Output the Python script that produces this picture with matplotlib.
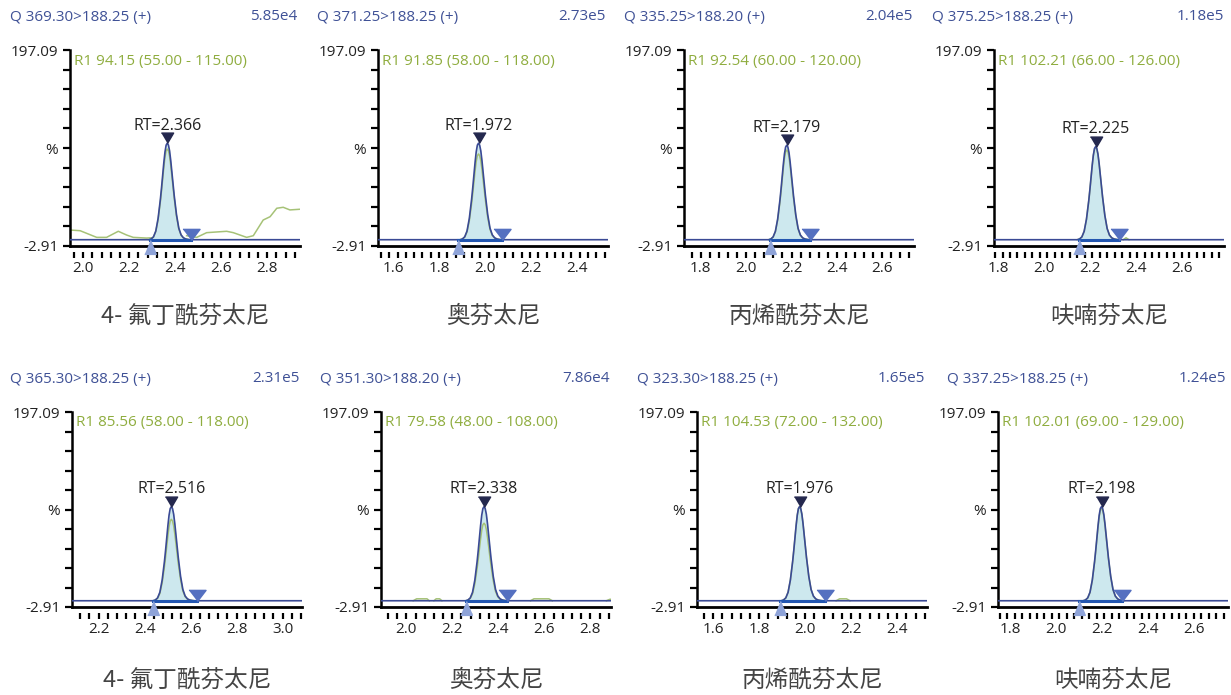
import matplotlib
matplotlib.use("Agg")
import matplotlib.pyplot as plt
from matplotlib.ticker import FormatStrFormatter, MultipleLocator
import numpy as np

W, H = 1231, 695

# header strings of each trace
TRANSITIONS = [
    "Q 369.30>188.25 (+)", "Q 371.25>188.25 (+)", "Q 335.25>188.20 (+)", "Q 375.25>188.25 (+)",
    "Q 365.30>188.25 (+)", "Q 351.30>188.20 (+)", "Q 323.30>188.25 (+)", "Q 337.25>188.25 (+)",
]
MAX_INTENSITY = ["5.85e4", "2.73e5", "2.04e5", "1.18e5", "2.31e5", "7.86e4", "1.65e5", "1.24e5"]
RATIO_TEXT = [
    "R1 94.15 (55.00 - 115.00)", "R1 91.85 (58.00 - 118.00)",
    "R1 92.54 (60.00 - 120.00)", "R1 102.21 (66.00 - 126.00)",
    "R1 85.56 (58.00 - 118.00)", "R1 79.58 (48.00 - 108.00)",
    "R1 104.53 (72.00 - 132.00)", "R1 102.01 (69.00 - 129.00)",
]
NAMES = ["4- 氟丁酰芬太尼", "奥芬太尼", "丙烯酰芬太尼", "呋喃芬太尼"] * 2

# retention times and peak integration limits
RT = [2.366, 1.972, 2.179, 2.225, 2.516, 2.338, 1.976, 2.198]
PEAK_START = [2.291, 1.881, 2.105, 2.154, 2.436, 2.260, 1.889, 2.102]
PEAK_END = [2.469, 2.072, 2.283, 2.328, 2.626, 2.439, 2.088, 2.285]
BLUE_APEX = [102, 102, 100, 98.5, 100, 100, 100, 100]
GREEN_APEX = [96, 91, 95, 98, 87, 83, 100, 98]
BASELINE = 3.5

XLIM = [
    (1.943, 2.943), (1.535, 2.535), (1.726, 2.74), (1.783, 2.783),
    (2.084, 3.084), (1.89, 2.89), (1.53, 2.53), (1.748, 2.748),
]
MINOR_STEP = [0.04, 0.036, 0.04, 0.0325, 0.04, 0.04, 0.04, 0.0325]

Y_LO, Y_HI = -2.91, 197.09

# peak profile (percent of apex), time offset from apex
PEAK_OFFSETS = [-0.08, -0.07, -0.06, -0.05, -0.04, -0.03, -0.025, -0.02, -0.015, -0.01, -0.005, 0.0,
                0.005, 0.01, 0.015, 0.02, 0.025, 0.03, 0.04, 0.05, 0.06, 0.07, 0.08, 0.09, 0.10]
PEAK_SHAPE = [0, 0.8, 3, 9, 22, 42, 54, 67, 80, 91, 98, 100,
              98, 92, 82, 70, 58, 46, 26, 12, 5, 2, 0.8, 0.3, 0]

# green trace outside the peak (qualifier noise)
GREEN_NOISE = [
    [([1.943, 1.987, 2.059, 2.102, 2.153, 2.189, 2.218, 2.276, 2.30],
      [13.4, 12.7, 5.9, 5.9, 12.1, 8.3, 5.9, 5.2, 5.5]),
     ([2.45, 2.494, 2.537, 2.624, 2.653, 2.711, 2.74, 2.783, 2.813, 2.842, 2.87, 2.899, 2.943],
      [7.6, 5.9, 10.7, 12.1, 10.7, 5.9, 7.6, 23.6, 27.0, 35.6, 36.6, 33.9, 34.6])],
    [],
    [],
    [([2.345, 2.357, 2.37], [3.5, 5.5, 3.5])],
    [],
    [([2.03, 2.045, 2.09, 2.10], [3.5, 5.5, 5.5, 3.5]),
     ([2.12, 2.13, 2.145, 2.155], [3.5, 5.5, 5.5, 3.5]),
     ([2.54, 2.555, 2.62, 2.635], [3.5, 5.5, 5.5, 3.5]),
     ([2.87, 2.885, 2.89], [3.5, 5.0, 5.0])],
    [([2.135, 2.15, 2.18, 2.195], [3.5, 5.5, 5.5, 3.5])],
    [],
]

# layout in pixels
AX_LEFT = [70, 378, 684, 994, 72, 381, 697, 998]
AX_W = 230
ROW_TOP = [50, 412]
ROW_BOTTOM = [246, 607]
HEAD_X = [10, 317, 624, 932, 10, 320, 637, 947]
HEAD_RIGHT = [297, 606, 913, 1224, 300, 610, 925, 1226]
HEAD_Y = [17, 379]
RATIO_Y = [61, 423]
NAME_Y = [316, 680]

HEAD_BLUE = "#3f5196"
RATIO_GREEN = "#8fad3f"
TRACE_GREEN = "#a6c277"
TRACE_BLUE = "#3a4a95"
FILL = "#cde8ee"

plt.rcParams["font.family"] = ["Open Sans", "DejaVu Sans"]
fig = plt.figure(figsize=(W / 100, H / 100), dpi=100)


def tri(kind):
    if kind == "apex":
        return [(-1, 1.7), (1, 1.7), (0, 0)]
    if kind == "end":
        return [(-1, 1.3), (1, 1.3), (0, 0)]
    return [(-1, -2.4), (1, -2.4), (0, 0)]


for i in range(8):
    row = i // 4
    top, bottom = ROW_TOP[row], ROW_BOTTOM[row]
    ax = fig.add_axes([AX_LEFT[i] / W, 1 - bottom / H, AX_W / W, (bottom - top) / H])
    x0, x1 = XLIM[i]
    ax.set_xlim(x0, x1)
    ax.set_ylim(Y_LO, Y_HI)

    for s in ("top", "right"):
        ax.spines[s].set_visible(False)
    ax.spines["left"].set_linewidth(1.8)
    ax.spines["bottom"].set_position(("outward", 4))
    ax.spines["bottom"].set_visible(False)
    ax.axhline(Y_LO, color="black", lw=2.0, clip_on=False, zorder=2.5)

    yt = [Y_LO + 20 * k for k in range(11)]
    ylabels = [""] * 11
    ylabels[0], ylabels[5], ylabels[10] = "-2.91", "%", "197.09"
    ax.set_yticks(yt)
    ax.set_yticklabels(ylabels)
    ax.tick_params(axis="y", length=5, width=1.6, direction="out", pad=3.5,
                   labelsize=11, labelcolor="#222222")

    ax.xaxis.set_major_locator(MultipleLocator(0.2))
    ax.xaxis.set_major_formatter(FormatStrFormatter("%.1f"))
    ax.xaxis.set_minor_locator(MultipleLocator(MINOR_STEP[i]))
    ax.xaxis.remove_overlapping_locs = False
    ax.tick_params(axis="x", which="major", length=0, pad=7, labelsize=11, labelcolor="#222222")
    ax.tick_params(axis="x", which="minor", length=4.5, width=1.6, direction="out")

    t = RT[i] + np.array(PEAK_OFFSETS)
    shape = np.array(PEAK_SHAPE) / 100
    blue = BASELINE + shape * (BLUE_APEX[i] - BASELINE)
    green = BASELINE + shape * (GREEN_APEX[i] - BASELINE)

    ax.fill_between(t, BASELINE, blue, color=FILL, lw=0, zorder=1)
    for gt, gv in GREEN_NOISE[i]:
        ax.plot(gt, gv, color=TRACE_GREEN, lw=1.1, zorder=2)
    ax.plot(t, green, color=TRACE_GREEN, lw=1.1, zorder=2)
    ax.plot([x0] + list(t) + [x1], [BASELINE] + list(blue) + [BASELINE],
            color=TRACE_BLUE, lw=1.2, zorder=3)
    ax.plot([PEAK_START[i], PEAK_END[i]], [BASELINE, BASELINE], color="#2356b0", lw=2.2, zorder=3.5)

    ax.plot(RT[i], BLUE_APEX[i], marker=tri("apex"), ms=15, color="#24284e", lw=0,
            clip_on=False, zorder=6)
    ax.plot(PEAK_END[i], BASELINE, marker=tri("end"), ms=16, color="#5570c0", lw=0,
            clip_on=False, zorder=6)
    ax.plot(PEAK_START[i], BASELINE, marker=tri("start"), ms=20, color="#8ea3d8", lw=0,
            clip_on=False, zorder=6)

    ax.annotate(f"RT={RT[i]:.3f}", (RT[i], BLUE_APEX[i]), xytext=(0, 9.5),
                textcoords="offset points", ha="center", va="baseline",
                fontsize=11.5, color="#222222")

    fig.text(HEAD_X[i] / W, 1 - HEAD_Y[row] / H, TRANSITIONS[i], ha="left", va="center",
             fontsize=11, color=HEAD_BLUE)
    fig.text(HEAD_RIGHT[i] / W, 1 - HEAD_Y[row] / H, MAX_INTENSITY[i], ha="right", va="center",
             fontsize=11, color=HEAD_BLUE)
    fig.text((AX_LEFT[i] + 4) / W, 1 - RATIO_Y[row] / H, RATIO_TEXT[i], ha="left", va="center",
             fontsize=11, color=RATIO_GREEN)
    fig.text((AX_LEFT[i] + AX_W / 2) / W, 1 - NAME_Y[row] / H, NAMES[i], ha="center", va="center",
             fontsize=17, color="#444444", fontweight="light",
             family=["Noto Sans CJK SC", "DejaVu Sans"])

fig.savefig("out.png", dpi=100)
